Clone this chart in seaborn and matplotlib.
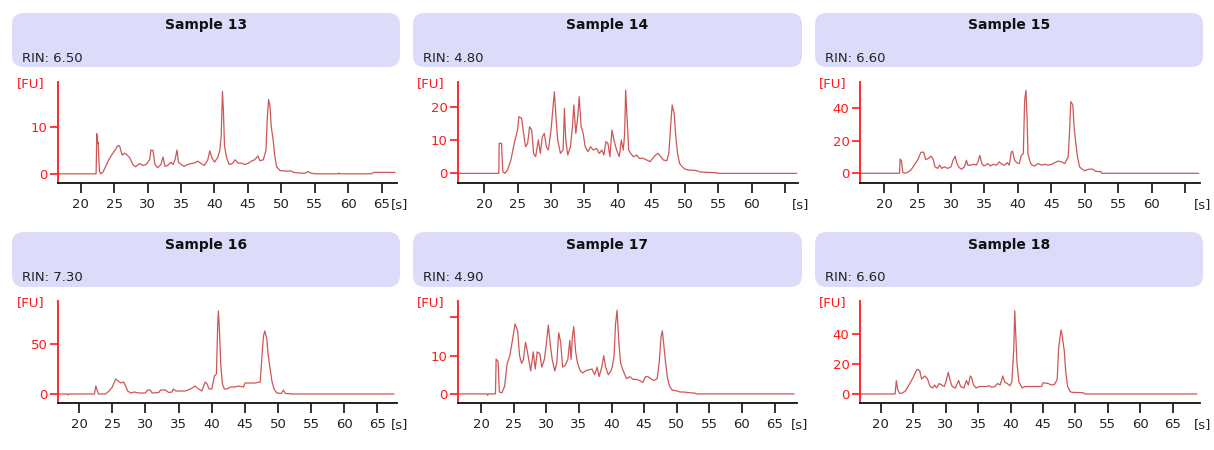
import matplotlib
matplotlib.use("Agg")
import matplotlib.pyplot as plt
import seaborn as sns
import pandas as pd
from matplotlib.patches import FancyBboxPatch

# ---------------- data ----------------
samples = ["Sample 13", "Sample 14", "Sample 15", "Sample 16", "Sample 17", "Sample 18"]
rin_values = ["6.50", "4.80", "6.60", "7.30", "4.90", "6.60"]

s13_trace = [(16.6, 0), (22.3, 0), (22.4, 8.6), (22.5, 6.5), (22.6, 6.8), (22.8, 0.5), (23.0, 0.0), (23.3, 0.3),
             (23.7, 1.5), (24.2, 3.0), (24.7, 4.2), (25.2, 5.2), (25.5, 6.0), (25.8, 6.0), (26.2, 4.0), (26.5, 4.4),
             (26.8, 4.2), (27.3, 3.5), (27.8, 2.0), (28.2, 1.5), (28.8, 2.2), (29.3, 1.8), (29.8, 2.0), (30.3, 3.0),
             (30.5, 5.1), (30.8, 5.0), (31.1, 2.0), (31.5, 1.3), (32.0, 2.0), (32.3, 3.6), (32.6, 1.6), (33.0, 1.8),
             (33.5, 2.5), (33.8, 2.0), (34.1, 3.0), (34.4, 5.1), (34.6, 2.5), (35.0, 2.0), (35.5, 1.6), (36.0, 2.0),
             (36.5, 2.2), (37.0, 2.3), (37.5, 2.7), (38.0, 2.2), (38.5, 1.8), (39.0, 3.0), (39.3, 4.9), (39.6, 3.5),
             (40.0, 2.5), (40.5, 3.5), (40.8, 5.0), (41.0, 8.0), (41.2, 17.6), (41.35, 13.0), (41.5, 6.0), (41.8, 3.5),
             (42.2, 2.0), (42.7, 2.2), (43.1, 3.0), (43.5, 2.3), (44.0, 2.3), (44.5, 2.0), (45.0, 2.2), (45.5, 2.7),
             (46.0, 3.0), (46.5, 3.8), (46.8, 2.8), (47.3, 3.0), (47.7, 5.0), (47.9, 12.0), (48.1, 15.9), (48.3, 14.5),
             (48.5, 10.0), (48.8, 7.0), (49.0, 4.0), (49.3, 1.5), (49.8, 0.7), (50.5, 0.6), (51.5, 0.6), (51.8, 0.3),
             (52.5, 0.2), (53.5, 0.1), (54.0, 0.5), (54.3, 0.2), (55.0, 0.0), (58.5, 0.0), (58.6, 0.2), (58.7, 0.0),
             (63.5, 0.0), (63.8, 0.3), (65.0, 0.3), (67.0, 0.3)]

s14_trace = [(16.1, 0), (22.2, 0), (22.25, 9.0), (22.6, 9.0), (22.8, 0.5), (23.1, 0), (23.5, 1), (24, 4), (24.5, 9),
             (25, 13), (25.2, 17), (25.6, 16.5), (25.9, 12), (26.2, 8), (26.5, 9), (26.8, 14), (27.1, 13), (27.4, 6),
             (27.7, 5), (28.1, 10), (28.4, 6), (28.7, 11), (29, 12), (29.3, 8), (29.6, 7), (30, 13), (30.3, 20),
             (30.5, 24.5), (30.7, 18), (31, 10), (31.4, 6), (31.8, 7), (32.0, 19.5), (32.2, 10), (32.5, 5.5), (32.9, 8),
             (33.2, 14), (33.4, 20.5), (33.7, 12), (34, 17), (34.2, 23), (34.5, 14), (34.8, 12), (35.1, 8), (35.5, 6.5),
             (35.9, 8), (36.3, 7), (36.8, 7.5), (37.2, 6), (37.6, 7), (37.9, 5.5), (38.2, 9.5), (38.5, 9), (38.8, 5),
             (39.1, 13), (39.4, 10), (39.8, 7), (40.2, 5), (40.5, 10), (40.8, 7), (41.0, 12), (41.15, 25), (41.4, 15),
             (41.6, 7), (41.9, 6), (42.3, 5), (42.8, 5.5), (43.2, 4.5), (43.8, 4.5), (44.3, 4), (44.8, 3.5), (45.2, 4.5),
             (45.6, 5.5), (46, 6), (46.4, 5), (46.8, 4), (47.3, 3.8), (47.6, 6), (47.9, 15), (48.1, 20.5), (48.4, 18),
             (48.6, 12), (48.9, 6), (49.2, 3), (49.6, 2), (50, 1.3), (50.5, 1), (51.5, 0.9), (52.1, 0.6), (52.3, 0.4),
             (53.5, 0.3), (54.7, 0.2), (54.8, 0), (66.7, 0)]

s15_trace = [(16.4, 0), (22.3, 0), (22.4, 8.8), (22.6, 7.5), (22.8, 0.5), (23, 0), (23.5, 0.5), (24, 2), (24.5, 5),
             (25, 8), (25.5, 12.9), (25.9, 13), (26.2, 8.5), (26.6, 9), (27, 10.5), (27.3, 9), (27.6, 4), (28, 3),
             (28.3, 5), (28.6, 3), (29, 4), (29.5, 3), (30, 4), (30.3, 8), (30.6, 10.4), (30.9, 6), (31.2, 3.5),
             (31.6, 2.5), (32, 4), (32.3, 8), (32.5, 5), (32.9, 5), (33.4, 5.5), (33.8, 5), (34.1, 8), (34.3, 11),
             (34.6, 6), (34.9, 4.5), (35.2, 5), (35.5, 6), (35.9, 4.5), (36.3, 5.5), (36.8, 5), (37.2, 7), (37.6, 5.5),
             (38, 5), (38.4, 6.5), (38.7, 5), (39.0, 13), (39.2, 13.5), (39.5, 8), (39.8, 6.5), (40.2, 6), (40.5, 11),
             (40.8, 12), (41.0, 45), (41.2, 51), (41.35, 35), (41.5, 12), (41.8, 7), (42.1, 5), (42.5, 4.5), (43, 6),
             (43.5, 5), (44, 5.5), (44.5, 5), (45, 5.5), (45.5, 6.5), (46, 7.5), (46.5, 7), (47, 6), (47.5, 10),
             (47.7, 25), (47.9, 44), (48.2, 42), (48.4, 28), (48.6, 20), (48.9, 10), (49.2, 4), (49.6, 2.5),
             (50.0, 1.5), (50.5, 2.5), (51.2, 2.5), (51.6, 1.2), (52.4, 1.0), (52.5, 0), (67.0, 0)]

s16_trace = [(16.8, 0), (18.2, 0), (18.3, -1), (18.4, 0), (22.3, 0), (22.5, 8), (22.7, 4), (22.9, 0), (24, 0),
             (24.5, 3), (25, 7), (25.5, 15), (25.9, 13), (26.3, 11), (26.7, 12), (27, 8), (27.3, 3), (27.8, 1),
             (28.3, 2), (29, 1), (30, 1), (30.3, 4), (30.7, 4), (31.0, 1), (32, 1.5), (32.3, 4), (33, 4), (33.5, 1.5),
             (34, 2), (34.2, 5), (34.6, 3), (35.3, 3), (36, 3), (36.8, 5), (37.5, 8), (38.0, 5), (38.5, 3), (39, 12),
             (39.3, 10), (39.6, 5), (40, 5), (40.4, 18), (40.7, 20), (40.9, 70), (41.0, 83), (41.15, 65), (41.35, 30),
             (41.6, 10), (41.9, 5), (42.3, 5), (42.8, 7), (43.5, 7), (44, 8), (44.8, 7), (45.0, 11), (46.5, 11),
             (47.3, 12), (47.6, 40), (47.8, 58), (48.0, 63), (48.3, 55), (48.5, 40), (48.8, 25), (49.1, 12), (49.4, 5),
             (49.8, 1), (50.5, 0.5), (50.8, 4), (51.1, 0.5), (51.9, 0.3), (52.0, 0), (67.5, 0)]

s17_trace = [(16.5, 0), (20.9, 0), (21.0, -0.4), (21.1, 0), (22.2, 0), (22.3, 9.1), (22.6, 8.5), (22.8, 0.5),
             (23.2, 0.3), (23.6, 2), (24, 8), (24.4, 10), (24.8, 14), (25.2, 18.3), (25.6, 16.5), (25.9, 10), (26.2, 8),
             (26.5, 9), (26.8, 13.5), (27.0, 12), (27.3, 9), (27.6, 6), (28.0, 11), (28.3, 6.5), (28.6, 11),
             (29.0, 10.5), (29.3, 7), (29.7, 9), (30.0, 13), (30.3, 18), (30.6, 13), (30.9, 9), (31.3, 6), (31.6, 8),
             (31.9, 16), (32.2, 13.5), (32.5, 7), (32.9, 7.5), (33.3, 9), (33.6, 14), (33.8, 9), (34.0, 15),
             (34.2, 17.6), (34.5, 11), (34.8, 8), (35.2, 6), (35.6, 5.5), (36, 6), (36.5, 6.3), (37, 6.5), (37.4, 5),
             (37.8, 7), (38.1, 4.5), (38.5, 7), (38.8, 10), (39.1, 7), (39.5, 5), (39.9, 6), (40.1, 7), (40.4, 10),
             (40.6, 18), (40.85, 21.9), (41.1, 14), (41.4, 8), (41.8, 6), (42.3, 4), (42.8, 4.5), (43.3, 3.8),
             (43.8, 3.8), (44.3, 3.5), (44.8, 3), (45.2, 4.5), (45.6, 4.5), (46.0, 4), (46.5, 3.5), (47.0, 4), (47.3, 8),
             (47.6, 15), (47.8, 16.5), (48.0, 13), (48.3, 8), (48.6, 4), (48.9, 2), (49.3, 1), (50, 0.8), (50.5, 0.5),
             (51, 0.5), (52, 0.3), (52.8, 0.2), (53, 0), (68.0, 0)]

s18_trace = [(16.8, 0), (22.2, 0), (22.4, 8.9), (22.6, 3), (22.9, 0.5), (23.3, 0.5), (23.8, 2), (24.2, 5), (24.6, 8),
             (25, 11), (25.3, 14), (25.6, 16.5), (26.0, 15.5), (26.3, 10), (26.8, 12), (27.2, 10), (27.6, 5), (28.0, 4),
             (28.3, 6), (28.6, 4), (29.0, 7), (29.4, 6), (29.8, 5), (30.1, 9), (30.4, 14.5), (30.7, 9), (31.0, 5),
             (31.5, 4), (32.0, 9), (32.3, 5), (32.8, 4), (33.2, 9), (33.5, 6), (33.8, 12), (34.0, 11), (34.3, 6),
             (34.7, 4), (35.2, 5), (35.7, 5), (36.2, 5), (36.7, 5.5), (37.1, 4.5), (37.6, 5), (38.0, 7), (38.4, 6),
             (38.8, 12), (39.1, 8), (39.5, 7), (39.9, 5.5), (40.2, 8), (40.5, 30), (40.65, 55.5), (40.8, 40),
             (41.0, 20), (41.3, 8), (41.8, 4), (42.2, 5), (43, 5), (44, 5), (44.8, 5), (45.0, 7.5), (45.8, 7), (46.3, 6),
             (46.8, 6.5), (47.2, 10), (47.4, 30), (47.6, 37), (47.8, 42.7), (48.0, 38), (48.3, 28), (48.5, 15),
             (48.8, 5), (49.2, 1.5), (49.7, 1), (50.5, 1), (51.2, 0.8), (51.5, 0), (68.7, 0)]

traces = [s13_trace, s14_trace, s15_trace, s16_trace, s17_trace, s18_trace]

x_ticks = [20, 25, 30, 35, 40, 45, 50, 55, 60, 65]
y_ticks = [[0, 10], [0, 10, 20], [0, 20, 40], [0, 50], [0, 10, 20], [0, 20, 40]]
y_ticklabels = [["0", "10"], ["0", "10", "20"], ["0", "20", "40"], ["0", "50"], ["0", "10", ""], ["0", "20", "40"]]
x_ticklabels = [
    ["20", "25", "30", "35", "40", "45", "50", "55", "60", "65"],
    ["20", "25", "30", "35", "40", "45", "50", "55", "60", ""],
    ["20", "25", "30", "35", "40", "45", "50", "55", "60", ""],
    ["20", "25", "30", "35", "40", "45", "50", "55", "60", "65"],
    ["20", "25", "30", "35", "40", "45", "50", "55", "60", "65"],
    ["20", "25", "30", "35", "40", "45", "50", "55", "60", "65"],
]
x_limits = [(16.6, 67.3), (16.1, 66.9), (16.4, 67.2), (16.8, 67.9), (16.5, 68.4), (16.8, 69.2)]
y_limits = [(-1.9, 19.7), (-2.8, 27.5), (-5.8, 56.3), (-8.7, 93.0), (-2.3, 24.3), (-5.8, 62.0)]

# ---------------- layout (pixels) ----------------
W, H = 1214, 450
axes_px = [(58, 397, 81.7, 182.7), (458, 798, 81.7, 182.7), (860, 1200, 81.7, 182.7),
           (58, 396.7, 301, 402.7), (458.3, 796.7, 301, 402.7), (860, 1200, 301, 402.7)]
boxes_px = [(12, 400, 13, 67), (413, 802, 13, 67), (815, 1203, 13, 67),
            (12, 400, 232, 287), (413, 802, 232, 287), (815, 1203, 232, 287)]

sns.set_theme(style="white")
plt.rcParams["font.family"] = ["DejaVu Sans"]

fig = plt.figure(figsize=(W / 100, H / 100), dpi=100)
fig.patch.set_facecolor("white")

bg = fig.add_axes([0, 0, 1, 1], zorder=0)
bg.set_xlim(0, W)
bg.set_ylim(H, 0)
bg.axis("off")

RED = "#ff1a1a"
TRACE = "#c84444"

for i in range(6):
    x0, x1, y0, y1 = boxes_px[i]
    bg.add_patch(FancyBboxPatch((x0 + 12, y0 + 12), (x1 - x0) - 24, (y1 - y0) - 24,
                                boxstyle="round,pad=12", facecolor="#dcdcfa", edgecolor="none"))
    bg.text((x0 + x1) / 2, y0 + 12.5, samples[i], ha="center", va="center",
            fontsize=10, fontweight="bold", color="#111111")
    bg.text(x0 + 10, y0 + 45.5, "RIN: " + rin_values[i], ha="left", va="center",
            fontsize=9.5, color="#222222")

    l, r, t, b = axes_px[i]
    ax = fig.add_axes([l / W, 1 - b / H, (r - l) / W, (b - t) / H], zorder=2)
    ax.patch.set_alpha(0)
    df = pd.DataFrame(traces[i], columns=["time", "fu"])
    sns.lineplot(data=df, x="time", y="fu", ax=ax, color=TRACE, linewidth=0.9,
                 estimator=None, sort=False, alpha=0.9)
    ax.set_xlim(*x_limits[i])
    ax.set_ylim(*y_limits[i])
    ax.set_xticks(x_ticks)
    ax.set_xticklabels(x_ticklabels[i])
    ax.set_yticks(y_ticks[i])
    ax.set_yticklabels(y_ticklabels[i])
    ax.set_xlabel("")
    ax.set_ylabel("")
    for s in ["top", "right"]:
        ax.spines[s].set_visible(False)
    ax.spines["left"].set_color(RED)
    ax.spines["left"].set_linewidth(1.3)
    ax.spines["bottom"].set_color("#111111")
    ax.spines["bottom"].set_linewidth(1.3)
    ax.tick_params(axis="x", direction="out", length=7, width=1.2, color="#111111",
                   labelsize=9.5, labelcolor="#222222", pad=4, bottom=True)
    ax.tick_params(axis="y", direction="out", length=6, width=1.2, color=RED,
                   labelsize=9.5, labelcolor=RED, pad=1.5, left=True)
    ax.grid(False)
    ax.annotate("[FU]", xy=(0, 1), xycoords="axes fraction", xytext=(-14, -2),
                textcoords="offset pixels", ha="right", va="center", fontsize=9.5, color=RED)
    ax.annotate("[s]", xy=(1, 0), xycoords="axes fraction", xytext=(3, -22),
                textcoords="offset pixels", ha="center", va="center", fontsize=9.5, color="#222222")

fig.savefig("out.png", dpi=100, facecolor="white")
